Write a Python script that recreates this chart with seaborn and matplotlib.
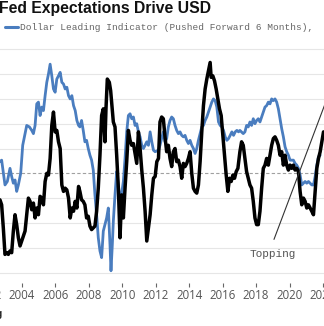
import matplotlib
matplotlib.use("Agg")
import matplotlib.pyplot as plt
import seaborn as sns
import pandas as pd
from matplotlib.lines import Line2D

# ---- data (x: decimal year, y: grid units, 0 = dashed line) ----
blue_years = [
    2002.68, 2002.78, 2002.98, 2003.12, 2003.28, 2003.38, 2003.48, 2003.58, 2003.68, 2003.78,
    2003.92, 2004.04, 2004.18, 2004.28, 2004.44, 2004.58, 2004.68, 2004.78, 2004.88, 2004.98,
    2005.08, 2005.18, 2005.28, 2005.38, 2005.48, 2005.58, 2005.68, 2005.78, 2005.88, 2005.98,
    2006.08, 2006.18, 2006.28, 2006.38, 2006.48, 2006.58, 2006.68, 2006.78, 2006.88, 2006.98,
    2007.08, 2007.18, 2007.28, 2007.38,
    2007.46, 2007.56, 2007.66, 2007.76, 2007.86, 2007.96, 2008.06, 2008.16, 2008.26, 2008.36,
    2008.46, 2008.56, 2008.66, 2008.76, 2008.86, 2008.96, 2009.06, 2009.16, 2009.26, 2009.32,
    2009.40, 2009.46, 2009.56, 2009.66, 2009.76, 2009.86, 2009.96, 2010.06, 2010.16, 2010.26,
    2010.36, 2010.46, 2010.56, 2010.66, 2010.76, 2010.86, 2010.96, 2011.06, 2011.16, 2011.26,
    2011.36, 2011.46, 2011.56, 2011.66, 2011.76, 2011.86, 2011.96, 2012.16,
    2012.25, 2012.45, 2012.55, 2012.65, 2012.75, 2012.85, 2012.95, 2013.05, 2013.15, 2013.25,
    2013.35, 2013.45, 2013.55, 2013.65, 2013.75, 2013.85, 2013.95, 2014.05, 2014.15, 2014.25,
    2014.35, 2014.45, 2014.55, 2014.65, 2014.75, 2014.85, 2014.95, 2015.05, 2015.15, 2015.25,
    2015.35, 2015.45, 2015.55, 2015.65, 2015.75, 2015.85, 2015.95, 2016.05, 2016.15, 2016.25,
    2016.35, 2016.45, 2016.55, 2016.65, 2016.75, 2016.85, 2016.95,
    2017.03, 2017.23, 2017.33, 2017.43, 2017.53, 2017.63, 2017.73, 2017.83, 2017.93, 2018.03,
    2018.13, 2018.23, 2018.33, 2018.43, 2018.53, 2018.63, 2018.73, 2018.83, 2018.93, 2019.03,
    2019.13, 2019.23, 2019.33, 2019.43, 2019.53, 2019.63, 2019.73, 2019.83, 2019.93, 2020.03,
    2020.23, 2020.33, 2020.43, 2020.53, 2020.63, 2020.73, 2020.83, 2020.93, 2021.03, 2021.13,
    2021.23, 2021.33, 2021.43, 2021.53, 2021.63, 2021.73, 2021.83,
]
blue_values = [
    0.47, 0.53, -0.47, -0.33, 0.20, -0.13, -0.40, -0.27, -0.73, -0.47,
    0.00, 1.13, 1.60, 1.93, 1.87, 1.73, 1.60, 1.93, 2.80, 2.87,
    2.33, 2.67, 2.53, 3.13, 3.67, 4.00, 4.40, 3.93, 3.40, 3.27,
    3.80, 3.93, 4.07, 3.67, 3.60, 3.40, 3.47, 3.13, 3.00, 3.13,
    2.73, 2.53, 2.13, 1.93,
    1.87, 2.13, 1.73, 1.27, 1.33, 1.00, 0.73, 0.53, 0.13, -0.87,
    -1.67, -2.60, -3.13, -3.40, -2.33, -2.07, -1.80, -1.40, -2.87, -3.93,
    -2.87, -1.93, -0.87, 0.07, -0.47, -1.13, -0.80, -0.33, 0.60, 1.67,
    2.33, 2.40, 2.20, 2.27, 1.93, 2.00, 1.67, 1.47, 1.13, 1.00,
    1.13, 1.27, 1.13, 1.67, 1.27, 0.93, 0.87, 0.93,
    1.13, 1.67, 1.27, 1.40, 1.87, 2.13, 2.27, 2.20, 1.93, 1.73,
    1.60, 1.67, 1.53, 1.47, 1.53, 1.33, 1.20, 1.33, 1.13, 1.00,
    0.80, 1.00, 1.33, 1.60, 1.87, 1.93, 2.13, 2.27, 2.47, 2.67,
    2.87, 3.00, 2.93, 2.67, 2.07, 1.93, 1.87, 1.73, 1.47, 1.33,
    1.40, 1.53, 1.67, 1.53, 1.67, 1.73, 1.67,
    1.73, 1.60, 1.67, 1.93, 1.87, 2.07, 1.93, 2.20, 2.00, 2.13,
    2.20, 2.07, 2.27, 2.47, 2.67, 2.73, 2.87, 2.80, 3.00, 2.93,
    3.00, 2.87, 2.60, 2.20, 1.80, 1.47, 1.07, 0.87, 0.73, 0.53,
    0.53, 0.40, 0.33, 0.20, -0.07, -0.47, -0.40, -0.33, -0.40, -0.33,
    -0.40, -0.47, -0.47, -0.13, 0.33, 0.67, 0.73,
]

black_years = [
    2002.68, 2002.78, 2002.88, 2002.98, 2003.08, 2003.18, 2003.28, 2003.38, 2003.48, 2003.58,
    2003.68, 2003.78, 2003.88, 2003.98, 2004.08, 2004.18, 2004.28, 2004.38, 2004.48, 2004.58,
    2004.68, 2004.78, 2004.88, 2004.98, 2005.08, 2005.18, 2005.28, 2005.38, 2005.48, 2005.58,
    2005.68, 2005.78, 2005.88, 2005.98, 2006.08, 2006.18, 2006.28, 2006.38, 2006.48, 2006.58,
    2006.68, 2006.78, 2006.88, 2006.98, 2007.08, 2007.18, 2007.28, 2007.38,
    2007.46, 2007.56, 2007.66, 2007.76, 2007.86, 2007.96, 2008.06, 2008.16, 2008.26, 2008.36,
    2008.46, 2008.56, 2008.66, 2008.76, 2008.86, 2008.96, 2009.02, 2009.10, 2009.22, 2009.30,
    2009.36, 2009.46, 2009.56, 2009.66, 2009.76, 2009.86, 2009.96, 2010.06, 2010.16, 2010.26,
    2010.36, 2010.46, 2010.56, 2010.66, 2010.76, 2010.86, 2010.96, 2011.06, 2011.16, 2011.26,
    2011.36, 2011.46, 2011.56, 2011.66, 2011.76, 2011.86, 2011.96, 2012.06, 2012.16,
    2012.25, 2012.35, 2012.45, 2012.55, 2012.65, 2012.75, 2012.85, 2012.95, 2013.05, 2013.15,
    2013.25, 2013.35, 2013.45, 2013.55, 2013.65, 2013.75, 2013.85, 2013.95, 2014.05, 2014.15,
    2014.25, 2014.35, 2014.45, 2014.55, 2014.65, 2014.75, 2014.85, 2014.95, 2015.05, 2015.15,
    2015.25, 2015.31, 2015.41, 2015.51, 2015.61, 2015.71, 2015.81, 2015.91, 2016.01, 2016.11,
    2016.21, 2016.31, 2016.41, 2016.51, 2016.61, 2016.71, 2016.81, 2016.91,
    2017.03, 2017.13, 2017.23, 2017.33, 2017.43, 2017.53, 2017.63, 2017.73, 2017.83, 2017.93,
    2018.03, 2018.13, 2018.23, 2018.33, 2018.43, 2018.53, 2018.63, 2018.73, 2018.83, 2018.93,
    2019.03, 2019.13, 2019.23, 2019.33, 2019.43, 2019.53, 2019.63, 2019.73, 2019.83, 2019.93,
    2020.03, 2020.13, 2020.23, 2020.33, 2020.43, 2020.53, 2020.63, 2020.73, 2020.83, 2020.93,
    2021.03, 2021.13, 2021.23, 2021.33, 2021.43, 2021.53, 2021.63, 2021.73, 2021.83, 2021.93,
    2022.03,
]
black_values = [
    -1.07, -1.27, -2.20, -3.27, -3.20, -3.27, -3.13, -3.20, -2.33, -1.67,
    -2.07, -2.60, -2.93, -2.73, -2.53, -2.33, -1.67, -1.00, -1.13, -1.47,
    -1.20, -1.80, -1.40, -1.67, -0.93, -1.00, -1.27, -0.33, 0.00, -0.07,
    0.60, 1.93, 2.47, 1.67, 1.73, 1.27, 1.00, -0.47, -0.73, -0.60,
    -0.67, -1.00, -1.80, -1.40, -1.53, -1.13, -1.40, -0.53,
    -0.73, -1.07, -1.13, -1.27, -1.80, -1.73, -2.13, -2.27, -2.20, -2.13,
    -1.53, -0.60, 0.73, 2.33, 2.60, 1.27, 2.60, 3.80, 3.67, 3.33,
    2.87, 2.07, 1.87, 0.73, -0.60, -2.60, -0.87, -1.80, -0.60, 0.47,
    1.73, 1.33, 1.13, 1.20, 0.80, 0.40, 1.67, 1.00, 0.13, -0.60,
    -1.53, -2.73, -2.20, -1.67, -0.87, -0.20, -0.13, 0.47, 0.60,
    2.07, 2.27, 2.20, 1.47, 0.87, 1.13, 0.60, 0.27, 0.87, 1.00,
    0.47, 0.53, 0.27, -0.20, 0.40, 0.27, 0.40, 0.60, 0.87, 0.00,
    -0.60, -0.73, -0.80, -0.47, 0.47, 1.67, 2.73, 3.40, 3.80, 4.13,
    4.47, 3.87, 3.93, 3.73, 3.40, 3.00, 2.60, 2.33, 1.53, 0.73,
    -0.07, -0.73, -0.20, -0.33, -0.07, -0.20, 0.07, 0.20,
    0.87, 1.27, 1.13, 0.60, 0.07, -0.20, -0.47, -0.60, -1.13, -1.80,
    -2.07, -2.07, -1.53, -0.60, 0.20, 0.33, 0.60, 0.33, 0.73, 1.13,
    1.40, 1.47, 1.33, 1.13, 0.73, 0.87, 0.33, 0.73, 0.33, 0.13,
    0.33, 0.20, 0.33, 0.13, 0.20, 0.07, -0.73, -1.27, -1.00, -1.13,
    -1.40, -1.27, -1.40, -1.53, -1.67, -0.73, 0.20, 0.60, 0.87, 1.27,
    1.67,
]

tick_years = [2002, 2004, 2006, 2008, 2010, 2012, 2014, 2016, 2018, 2020, 2022]
tick_labels = [str(y) for y in tick_years]
grid_levels = [-4, -3, -2, -1, 1, 2, 3, 4, 5]

title = "Fed Expectations Drive USD"
legend_label = "Dollar Leading Indicator (Pushed Forward 6 Months),"
annotation_text = "Topping"
source_text = "Bloomberg"

BLUE = "#4a7dbf"
BLACK = "#000000"

# ---- figure ----
sns.set_style("white")
W, H = 324, 326
fig = plt.figure(figsize=(W / 100, H / 100), dpi=100)

x_left_px, x_right_px = -11.4, 324.0
y_top_px, y_bot_px = 42.0, 283.0
zero_px, unit_px = 173.3, 24.8
ax = fig.add_axes([x_left_px / W, 1 - y_bot_px / H,
                   (x_right_px - x_left_px) / W, (y_bot_px - y_top_px) / H])
ax.set_xlim(2002.0, 2002.0 + (x_right_px - x_left_px) / 16.72)
ax.set_ylim(-(y_bot_px - zero_px) / unit_px, (zero_px - y_top_px) / unit_px)

for g in grid_levels:
    ax.axhline(g, color="#e6e6e6", lw=0.8, zorder=0)
ax.axhline(0, color="#a0a0a0", lw=0.8, ls=(0, (3, 2)), zorder=0)

df_blue = pd.DataFrame({"year": blue_years, "value": blue_values})
df_black = pd.DataFrame({"year": black_years, "value": black_values})
sns.lineplot(data=df_blue, x="year", y="value", ax=ax, color=BLUE, lw=2.0, zorder=2)
sns.lineplot(data=df_black, x="year", y="value", ax=ax, color=BLACK, lw=2.5, zorder=3)

for s in ax.spines.values():
    s.set_visible(False)
ax.set_xlabel("")
ax.set_ylabel("")
ax.set_yticks([])
ax.set_xticks(tick_years)
ax.set_xticklabels(tick_labels, fontfamily="Open Sans", fontsize=8.3, color="#555555")
ax.tick_params(axis="x", bottom=True, length=3, width=0.8, color="#666666",
               direction="out", pad=1.5)

# annotation leader
ax.annotate("", xy=(2023.0, 4.37), xytext=(2019.01, -2.77),
            arrowprops=dict(arrowstyle="-", color="#333333", lw=0.8),
            annotation_clip=False)
fig.text(250 / W, 1 - 254 / H, annotation_text, fontfamily="Liberation Mono",
         fontsize=8, color="#555555", va="center", ha="left")

# title + legend
fig.text(-1 / W, 1 - 9 / H, title, fontfamily="Liberation Sans", fontweight="bold",
         fontsize=11.3, color="#111111", va="center", ha="left")
fig.add_artist(Line2D([5 / W, 18 / W], [1 - 27 / H, 1 - 27 / H], color=BLUE, lw=2.2,
                      transform=fig.transFigure))
fig.text(20 / W, 1 - 27 / H, legend_label, fontfamily="Liberation Mono", fontsize=6.8,
         color="#666666", va="center", ha="left")

fig.text(3 / W, 1 - 314 / H, source_text, fontfamily="Liberation Sans", fontweight="bold",
         fontsize=7, color="#222222", va="center", ha="right")

fig.savefig("out.png", dpi=100)
